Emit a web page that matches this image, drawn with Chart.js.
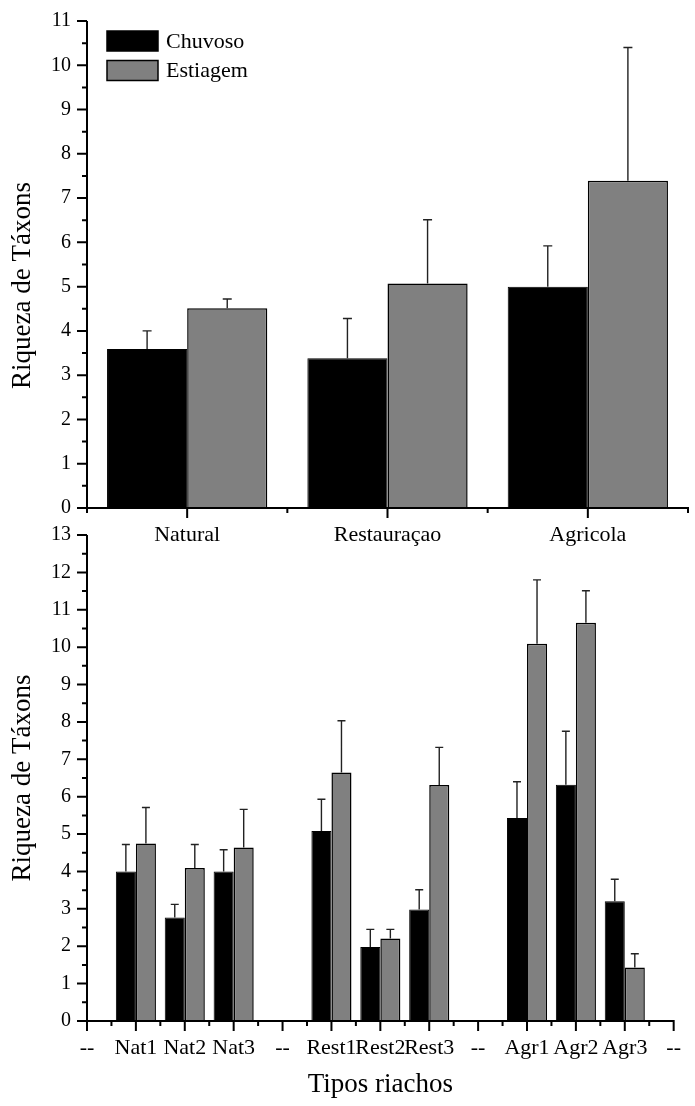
<!DOCTYPE html>
<html><head><meta charset="utf-8">
<script src="https://cdn.jsdelivr.net/npm/chart.js@4.4.0/dist/chart.umd.min.js"></script>
<style>
html,body{margin:0;padding:0;background:#fff;}
#wrap{position:relative;width:695px;height:1106px;overflow:hidden;background:#fff;}
#c1{position:absolute;left:0;top:0;}
#c2{position:absolute;left:0;top:520px;}
</style></head><body>
<div id="wrap">
<canvas id="c1" width="695" height="560"></canvas>
<canvas id="c2" width="695" height="586"></canvas>
</div>
<script>
// ---------- DATA ----------
const seriesNames = ['Chuvoso', 'Estiagem'];
const yTitle = 'Riqueza de Táxons';
const xTitleBottom = 'Tipos riachos';

const topCategories = ['Natural', 'Restauraçao', 'Agricola'];
const topChuvoso = [3.59, 3.38, 5.00];
const topChuvosoErr = [0.41, 0.90, 0.92];
const topEstiagem = [4.51, 5.07, 7.39];
const topEstiagemErr = [0.21, 1.44, 3.01];
const topYMax = 11;

const bottomCategories = ['--', 'Nat1', 'Nat2', 'Nat3', '--', 'Rest1', 'Rest2', 'Rest3', '--', 'Agr1', 'Agr2', 'Agr3', '--'];
const bottomChuvoso = [null, 4.00, 2.77, 4.00, null, 5.08, 1.98, 2.98, null, 5.43, 6.32, 3.20, null];
const bottomChuvosoErr = [null, 0.72, 0.35, 0.58, null, 0.85, 0.47, 0.53, null, 0.97, 1.43, 0.59, null];
const bottomEstiagem = [null, 4.75, 4.09, 4.64, null, 6.65, 2.21, 6.31, null, 10.09, 10.65, 1.43, null];
const bottomEstiagemErr = [null, 0.96, 0.63, 1.02, null, 1.38, 0.24, 1.01, null, 1.71, 0.86, 0.37, null];
const bottomYMax = 13;

// ---------- STYLE ----------
const FONT = "'Liberation Serif','Times New Roman',serif";
const COLORS = ['#000000', '#808080'];

function line(ctx, x1, y1, x2, y2) { ctx.moveTo(x1, y1); ctx.lineTo(x2, y2); }

const deco = {
  id: 'deco',
  afterDatasetsDraw(chart, args, o) {
    const ctx = chart.ctx;
    const { left, right, top, bottom } = chart.chartArea;
    const xs = chart.scales.x, ys = chart.scales.y;
    ctx.save();
    // error bars (upper only)
    chart.data.datasets.forEach((ds, i) => {
      const meta = chart.getDatasetMeta(i);
      ctx.strokeStyle = '#222';
      ctx.lineWidth = 1.4;
      ctx.beginPath();
      meta.data.forEach((el, j) => {
        const v = ds.data[j], e = ds.errors[j];
        if (v == null || e == null) return;
        const yt = ys.getPixelForValue(v + e);
        line(ctx, el.x, el.y, el.x, yt);
        line(ctx, el.x - o.cap, yt, el.x + o.cap, yt);
      });
      ctx.stroke();
    });
    // axes lines
    ctx.strokeStyle = '#000';
    ctx.lineWidth = 2;
    ctx.beginPath();
    line(ctx, left, top, left, bottom + 1);
    line(ctx, left - 1, bottom, right + 1, bottom);
    // y ticks: major integers, minor halves
    for (let k = 0; k <= ys.max * 2; k++) {
      const v = k / 2;
      const py = ys.getPixelForValue(v);
      const len = (k % 2 === 0) ? 10 : 5;
      line(ctx, left - len, py, left, py);
    }
    // x ticks
    const n = chart.data.labels.length;
    if (o.offset) {
      for (let i = 0; i < n; i++) {
        const px = xs.getPixelForValue(i);
        line(ctx, px, bottom, px, bottom + 10);
      }
      for (let i = 0; i <= n; i++) {
        const px = xs.getPixelForValue(i - 0.5);
        line(ctx, px, bottom, px, bottom + 5);
      }
    } else {
      for (let i = 0; i < n; i++) {
        const px = xs.getPixelForValue(i);
        line(ctx, px, bottom, px, bottom + 10);
        if (i < n - 1) {
          const pm = xs.getPixelForValue(i + 0.5);
          line(ctx, pm, bottom, pm, bottom + 5);
        }
      }
    }
    ctx.stroke();

    // y title
    ctx.fillStyle = '#000';
    ctx.font = '27px ' + FONT;
    ctx.textAlign = 'center';
    ctx.textBaseline = 'middle';
    ctx.save();
    ctx.translate(o.yTitleX, (top + bottom) / 2 + o.yTitleShift);
    ctx.rotate(-Math.PI / 2);
    ctx.fillText(yTitle, 0, 0);
    ctx.restore();
    // x title
    if (o.xTitle) {
      ctx.fillText(o.xTitle, (left + right) / 2, bottom + o.xTitleOffset);
    }
    // legend
    if (o.legend) {
      const lx = left + 20, ly = top + 10, bw = 51, bh = 20, step = 29.5;
      chart.data.datasets.forEach((ds, i) => {
        const by = ly + i * step;
        ctx.fillStyle = ds.backgroundColor;
        ctx.fillRect(lx, by, bw, bh);
        ctx.strokeStyle = '#000';
        ctx.lineWidth = 1.5;
        ctx.strokeRect(lx, by, bw, bh);
        ctx.fillStyle = '#000';
        ctx.font = '22px ' + FONT;
        ctx.textAlign = 'left';
        ctx.textBaseline = 'middle';
        ctx.fillText(ds.label, lx + bw + 8, by + bh / 2 + 1);
      });
    }
    ctx.restore();
  }
};

function makeDatasets(a, ae, b, be) {
  return [
    { label: seriesNames[0], data: a, errors: ae, backgroundColor: COLORS[0], borderColor: '#000', borderWidth: 1 },
    { label: seriesNames[1], data: b, errors: be, backgroundColor: COLORS[1], borderColor: '#000', borderWidth: 1.5 }
  ];
}

function makeOptions(cfg) {
  return {
    responsive: false,
    animation: false,
    events: [],
    layout: { padding: cfg.padding },
    datasets: { bar: { categoryPercentage: cfg.catPct, barPercentage: 1.0 } },
    plugins: {
      legend: { display: false },
      tooltip: { enabled: false },
      deco: cfg.deco
    },
    scales: {
      x: {
        offset: cfg.offset,
        grid: { display: false, drawTicks: false, offset: cfg.offset },
        border: { display: false },
        ticks: { font: { family: FONT, size: 22 }, color: '#000', padding: 14, autoSkip: false, maxRotation: 0, minRotation: 0 },
        afterFit(s) { s.height = cfg.xHeight; }
      },
      y: {
        min: 0, max: cfg.yMax,
        grid: { display: false, drawTicks: false },
        border: { display: false },
        ticks: { stepSize: 1, font: { family: FONT, size: 20 }, color: '#000', padding: 16 },
        afterFit(s) { s.width = 87; s.paddingTop = 0; s.paddingBottom = 0; }
      }
    }
  };
}

new Chart(document.getElementById('c1'), {
  type: 'bar',
  data: { labels: topCategories, datasets: makeDatasets(topChuvoso, topChuvosoErr, topEstiagem, topEstiagemErr) },
  options: makeOptions({
    padding: { left: 0, right: 7, top: 21, bottom: 0 },
    catPct: 0.8, offset: true, xHeight: 52, yMax: topYMax,
    deco: { cap: 4.5, offset: true, legend: true, yTitleX: 23, yTitleShift: 21, xTitle: null }
  }),
  plugins: [deco]
});

new Chart(document.getElementById('c2'), {
  type: 'bar',
  data: { labels: bottomCategories, datasets: makeDatasets(bottomChuvoso, bottomChuvosoErr, bottomEstiagem, bottomEstiagemErr) },
  options: makeOptions({
    padding: { left: 0, right: 8, top: 15, bottom: 0 },
    catPct: 0.82, offset: false, xHeight: 85, yMax: bottomYMax,
    deco: { cap: 4, offset: false, legend: false, yTitleX: 23, yTitleShift: 0, xTitle: xTitleBottom, xTitleOffset: 64 }
  }),
  plugins: [deco]
});
</script>
</body></html>
